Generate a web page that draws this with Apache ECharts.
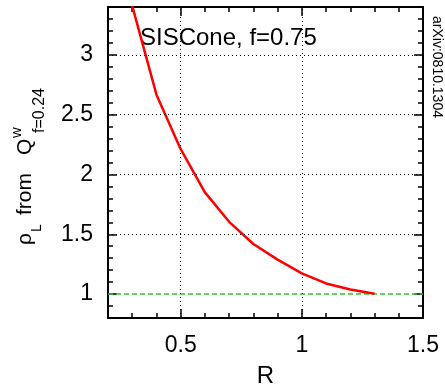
<!DOCTYPE html>
<html>
<head>
<meta charset="utf-8">
<script src="https://cdn.jsdelivr.net/npm/echarts@6/dist/echarts.min.js"></script>
<style>
html,body{margin:0;padding:0;background:#fff;}
#main{width:445px;height:388px;}
</style>
</head>
<body>
<div id="main"></div>
<script>
// ---- data ----
const R = [0.3, 0.4, 0.5, 0.6, 0.7, 0.8, 0.9, 1.0, 1.1, 1.2, 1.3];
const rhoL = [3.41, 2.667, 2.211, 1.85, 1.604, 1.419, 1.288, 1.173, 1.089, 1.039, 1.003];
const refR = [0.2, 1.5];
const refRho = [1, 1];
const xTickLabels = [0.5, 1, 1.5];
const yTickLabels = [1, 1.5, 2, 2.5, 3];
const xGridValues = [0.5, 1];
const yGridValues = [1.5, 2, 2.5, 3];
const xMajorTicks = [0.5, 1];
const yMajorTicks = [1, 1.5, 2, 2.5, 3];

const FONT = '"Liberation Sans", Arial, Helvetica, sans-serif';
const TICK = '#000';
const chart = echarts.init(document.getElementById('main'), null, {renderer: 'canvas'});

function labelFormatter(list) {
  return function (v) {
    const r = Math.round(v * 10) / 10;
    return list.some(t => Math.abs(t - r) < 1e-9) ? String(r) : '';
  };
}

function minorX(pos, withLabels) {
  return {
    type: 'value', min: 0.2, max: 1.5, interval: 0.1, position: pos, gridIndex: 0,
    axisLine: {show: true, onZero: false, lineStyle: {color: '#000', width: 2}},
    axisTick: {show: true, inside: true, length: 5, lineStyle: {color: TICK, width: 1.5}},
    axisLabel: withLabels ? {show: true, formatter: labelFormatter(xTickLabels), showMinLabel: true, showMaxLabel: true, color: '#000', fontSize: 23, fontFamily: FONT, margin: 16} : {show: false},
    splitLine: {show: false},
    name: withLabels ? 'R' : '', nameLocation: 'middle', nameGap: 46,
    nameTextStyle: {color: '#000', fontSize: 24, fontFamily: FONT}
  };
}
function majorX(pos) {
  return {
    type: 'value', min: 0.2, max: 1.5, position: pos, gridIndex: 0,
    axisLine: {show: false, onZero: false},
    axisTick: {show: true, inside: true, length: 9, customValues: xMajorTicks, lineStyle: {color: TICK, width: 1.5}},
    axisLabel: {show: false}, splitLine: {show: false}
  };
}
function minorY(pos, withLabels) {
  return {
    type: 'value', min: 0.8, max: 3.4, interval: 0.1, position: pos, gridIndex: 0,
    axisLine: {show: true, onZero: false, lineStyle: {color: '#000', width: 2}},
    axisTick: {show: true, inside: true, length: 5, lineStyle: {color: TICK, width: 1.5}},
    axisLabel: withLabels ? {show: true, formatter: labelFormatter(yTickLabels), showMinLabel: true, showMaxLabel: true, color: '#000', fontSize: 23, fontFamily: FONT, margin: 15} : {show: false},
    splitLine: {show: false}
  };
}
function majorY(pos) {
  return {
    type: 'value', min: 0.8, max: 3.4, position: pos, gridIndex: 0,
    axisLine: {show: false, onZero: false},
    axisTick: {show: true, inside: true, length: 9, customValues: yMajorTicks, lineStyle: {color: TICK, width: 1.5}},
    axisLabel: {show: false}, splitLine: {show: false}
  };
}

const gridLineStyle = {color: '#000', width: 1, type: [1, 3]};
const markLineData = xGridValues.map(v => ({xAxis: v})).concat(yGridValues.map(v => ({yAxis: v})));

const option = {
  animation: false,
  backgroundColor: '#fff',
  grid: {left: 108, top: 7, width: 315, height: 311, containLabel: false, outerBoundsMode: 'none'},
  xAxis: [minorX('bottom', true), minorX('top', false), majorX('bottom'), majorX('top')],
  yAxis: [minorY('left', true), minorY('right', false), majorY('left'), majorY('right')],
  series: [
    {
      type: 'line', xAxisIndex: 0, yAxisIndex: 0, silent: true,
      data: refR.map((r, i) => [r, refRho[i]]),
      showSymbol: false, symbol: 'none',
      lineStyle: {color: '#2fc12f', width: 1.5, type: [5, 3]},
      markLine: {
        silent: true, symbol: ['none', 'none'], label: {show: false},
        lineStyle: gridLineStyle, emphasis: {disabled: true},
        data: markLineData
      },
      z: 2
    },
    {
      type: 'line', xAxisIndex: 0, yAxisIndex: 0, silent: true,
      data: R.map((r, i) => [r, rhoL[i]]),
      showSymbol: false, symbol: 'none', clip: true,
      lineStyle: {color: '#ff0000', width: 2.5},
      z: 3
    }
  ],
  graphic: [
    {
      type: 'text', x: 140, y: 38.6, silent: true,
      style: {text: 'SISCone, f=0.75', font: '24px ' + FONT, fill: '#000', align: 'left', verticalAlign: 'middle'}
    },
    {
      type: 'text', x: 437, y: 67, rotation: -Math.PI / 2, silent: true,
      style: {text: 'arXiv:0810.1304', font: '14px ' + FONT, fill: '#000', align: 'center', verticalAlign: 'middle'}
    },
    {
      type: 'group', x: 33, y: 245, rotation: Math.PI / 2, silent: true,
      children: [
        {type: 'text', x: 0, y: -7.35, style: {text: 'ρ', font: '21px ' + FONT, fill: '#000', align: 'left', verticalAlign: 'middle'}},
        {type: 'text', x: 13, y: 4.1, style: {text: 'L', font: '14px ' + FONT, fill: '#000', align: 'left', verticalAlign: 'middle'}},
        {type: 'text', x: 30, y: -7.35, style: {text: 'from', font: '21px ' + FONT, fill: '#000', align: 'left', verticalAlign: 'middle'}},
        {type: 'text', x: 90, y: -7.35, style: {text: 'Q', font: '21px ' + FONT, fill: '#000', align: 'left', verticalAlign: 'middle'}},
        {type: 'text', x: 107, y: -16.25, style: {text: 'w', font: '15px ' + FONT, fill: '#000', align: 'left', verticalAlign: 'middle'}},
        {type: 'text', x: 112, y: 6.4, style: {text: 'f=0.24', font: '16px ' + FONT, fill: '#000', align: 'left', verticalAlign: 'middle'}}
      ]
    }
  ]
};
chart.setOption(option);
</script>
</body>
</html>
